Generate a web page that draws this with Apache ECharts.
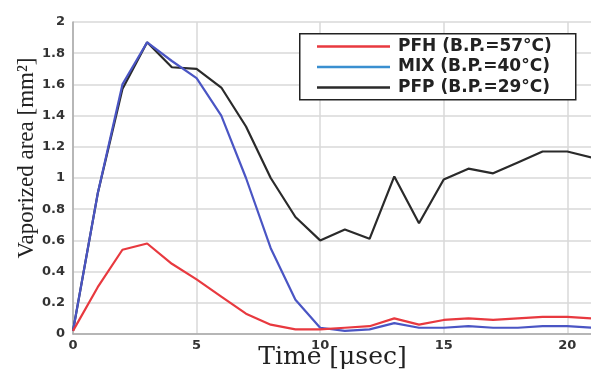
<!DOCTYPE html>
<html><head><meta charset="utf-8">
<script src="https://cdn.jsdelivr.net/npm/echarts@6/dist/echarts.min.js"></script>
<style>html,body{margin:0;padding:0;background:#fff}#c{width:591px;height:369px}</style>
</head><body><div id="c"></div>
<script>
const times = [0,1,2,3,4,5,6,7,8,9,10,11,12,13,14,15,16,17,18,19,20,21];
const pfh = [0.02,0.30,0.54,0.58,0.45,0.35,0.24,0.13,0.06,0.03,0.03,0.04,0.05,0.10,0.06,0.09,0.10,0.09,0.10,0.11,0.11,0.10];
const mix = [0.02,0.90,1.60,1.87,1.75,1.64,1.40,1.00,0.55,0.22,0.04,0.02,0.03,0.07,0.04,0.04,0.05,0.04,0.04,0.05,0.05,0.04];
const pfp = [0.02,0.90,1.57,1.87,1.71,1.70,1.58,1.33,1.00,0.75,0.60,0.67,0.61,1.01,0.71,0.99,1.06,1.03,1.10,1.17,1.17,1.13];
const names = ['PFH (B.P.=57°C)','MIX (B.P.=40°C)','PFP (B.P.=29°C)'];
const colors = ['#e8393f','#4a55c4','#2a2a2a'];
const legendColors = ['#e8393f','#3a8fd0','#2a2a2a'];
const zip = a => times.map((t,i)=>[t,a[i]]);
const chart = echarts.init(document.getElementById('c'));
const mk = (name,data,i)=>({name,type:'line',data:zip(data),symbol:'none',
  lineStyle:{color:colors[i],width:2.2},itemStyle:{color:legendColors[i]},z:3-i+2});
chart.setOption({
  animation:false,
  grid:{left:73,top:22,width:519,height:312,containLabel:false,outerBoundsMode:'none'},
  graphic:[{type:'rect',left:299,top:33,z:10,silent:true,
    shape:{width:276,height:66},style:{fill:'#fff',stroke:'#222',lineWidth:1.5}}],
  xAxis:{type:'value',min:0,max:21,interval:5,
    axisLine:{show:true,onZero:false,lineStyle:{color:'#a8a8a8',width:1.5}},
    axisTick:{show:false},
    axisLabel:{showMaxLabel:false,color:'#333',fontFamily:'DejaVu Sans',fontWeight:'bold',fontSize:13,margin:5},
    splitLine:{show:true,lineStyle:{color:'#d8d8d8',width:1.5}},
    name:'Time [μsec]',nameLocation:'middle',nameGap:23,nameMoveOverlap:false,
    nameTextStyle:{fontFamily:'DejaVu Serif',fontSize:25,color:'#222',verticalAlign:'middle'}},
  yAxis:{type:'value',min:0,max:2,interval:0.2,
    axisLine:{show:true,lineStyle:{color:'#a8a8a8',width:1.5}},
    axisTick:{show:false},
    axisLabel:{color:'#333',fontFamily:'DejaVu Sans',fontWeight:'bold',fontSize:13,margin:8,
      formatter:v=>String(Math.round(v*10)/10)},
    splitLine:{show:true,lineStyle:{color:'#d8d8d8',width:1.5}},
    name:'Vaporized area [mm²]',nameLocation:'middle',nameGap:46,nameMoveOverlap:false,
    nameTextStyle:{fontFamily:'Liberation Serif',fontSize:23,color:'#222',padding:[0,0,0,40],verticalAlign:'middle'}},
  legend:{orient:'vertical',left:299,top:35,z:20,
    padding:[3,16,3,18],itemGap:3.5,itemWidth:73,itemHeight:17,
    data:names.map((n,i)=>({name:n,icon:'path://M0,0H72V2.5H0Z',itemStyle:{color:legendColors[i]}})),
    textStyle:{fontFamily:'DejaVu Sans',fontWeight:'bold',fontSize:17,color:'#222',padding:[0,0,0,3]}},
  series:[mk(names[0],pfh,0),mk(names[1],mix,1),mk(names[2],pfp,2)]
});
</script></body></html>
